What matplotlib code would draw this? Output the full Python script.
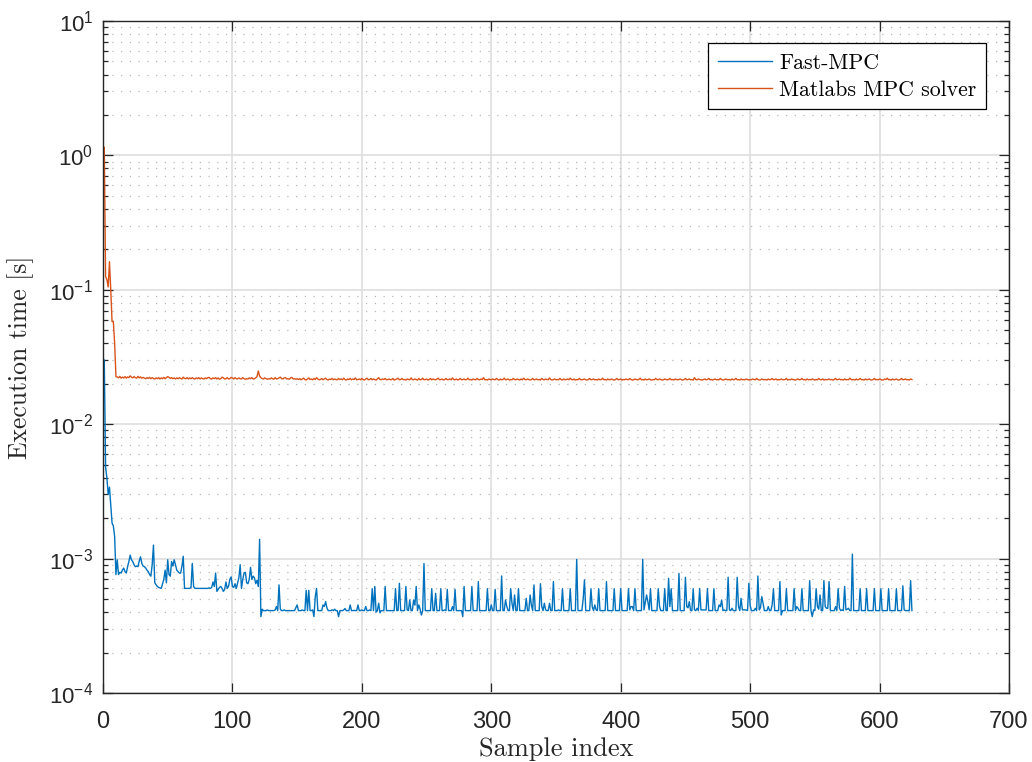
import numpy as np
import matplotlib
matplotlib.use("Agg")
import matplotlib.pyplot as plt
from matplotlib.ticker import LogLocator, NullFormatter

plt.rcParams['font.family'] = ['Liberation Sans', 'DejaVu Sans']
plt.rcParams['mathtext.fontset'] = 'custom'
plt.rcParams['mathtext.rm'] = 'Liberation Sans'

# Fast-MPC execution time per sample, in microseconds
fast_mpc_us = [
    30000, 4800, 4000, 3000, 3400, 2500, 1840, 1750, 1460, 760,
    980, 760, 790, 780, 820, 850, 800, 780, 870, 950,
    1060, 980, 950, 900, 870, 880, 870, 960, 1030, 920,
    880, 870, 850, 820, 800, 760, 740, 900, 1260, 660,
    640, 620, 610, 605, 600, 650, 700, 820, 660, 980,
    760, 740, 950, 880, 980, 900, 820, 800, 780, 780,
    880, 1040, 600, 600, 600, 600, 600, 610, 920, 620,
    600, 600, 600, 600, 600, 600, 600, 600, 600, 600,
    600, 605, 600, 610, 670, 620, 780, 570, 590, 610,
    620, 600, 570, 590, 670, 600, 620, 700, 730, 620,
    610, 650, 600, 660, 720, 900, 600, 700, 780, 790,
    660, 650, 700, 860, 700, 740, 720, 650, 690, 620,
    1390, 370, 420, 410, 410, 410, 415, 410, 410, 410,
    410, 410, 415, 440, 410, 637, 420, 410, 410, 415,
    410, 410, 410, 410, 410, 410, 410, 410, 430, 452,
    410, 410, 410, 415, 410, 410, 580, 410, 580, 410,
    410, 415, 370, 520, 600, 410, 410, 410, 410, 452,
    440, 478, 430, 410, 410, 410, 415, 410, 420, 410,
    410, 370, 410, 410, 410, 415, 425, 410, 410, 410,
    452, 410, 410, 412, 410, 410, 452, 410, 410, 415,
    410, 410, 440, 410, 410, 415, 410, 597, 410, 620,
    400, 410, 465, 395, 410, 410, 410, 620, 410, 410,
    410, 410, 410, 410, 410, 597, 410, 410, 655, 410,
    410, 410, 410, 620, 415, 410, 492, 410, 410, 492,
    450, 620, 410, 452, 420, 380, 410, 920, 410, 410,
    410, 410, 410, 597, 410, 410, 552, 410, 410, 410,
    597, 410, 410, 415, 410, 590, 410, 410, 410, 439,
    410, 590, 410, 410, 410, 410, 410, 370, 620, 410,
    410, 410, 410, 410, 620, 410, 410, 410, 410, 674,
    410, 410, 410, 410, 410, 410, 597, 410, 410, 452,
    410, 410, 590, 410, 410, 410, 410, 742, 410, 410,
    492, 440, 410, 410, 597, 465, 410, 536, 410, 410,
    597, 410, 410, 410, 410, 410, 506, 410, 410, 536,
    450, 410, 637, 410, 410, 410, 410, 650, 439, 410,
    465, 415, 410, 410, 465, 410, 410, 674, 410, 410,
    410, 415, 410, 410, 597, 410, 410, 410, 410, 410,
    597, 410, 410, 410, 410, 986, 410, 410, 410, 410,
    500, 693, 410, 410, 410, 410, 597, 439, 410, 452,
    415, 410, 597, 410, 410, 410, 410, 410, 674, 410,
    410, 410, 410, 410, 597, 410, 410, 410, 410, 597,
    410, 410, 410, 410, 410, 597, 415, 439, 439, 410,
    597, 410, 410, 410, 410, 410, 986, 415, 470, 536,
    478, 415, 597, 410, 410, 410, 410, 410, 597, 439,
    410, 410, 410, 597, 410, 410, 713, 439, 597, 410,
    410, 410, 410, 410, 776, 410, 410, 410, 410, 726,
    439, 430, 478, 410, 410, 597, 415, 410, 427, 410,
    597, 415, 415, 415, 415, 415, 597, 410, 410, 410,
    410, 597, 410, 410, 410, 452, 439, 492, 410, 415,
    410, 410, 726, 415, 410, 427, 410, 410, 410, 726,
    439, 410, 506, 415, 415, 415, 415, 410, 655, 450,
    410, 410, 410, 427, 410, 742, 415, 430, 521, 465,
    410, 410, 410, 439, 410, 410, 452, 597, 410, 410,
    410, 410, 674, 380, 410, 410, 410, 597, 410, 410,
    410, 410, 410, 597, 410, 439, 427, 410, 410, 597,
    410, 410, 410, 410, 410, 685, 410, 370, 415, 410,
    597, 439, 420, 536, 410, 410, 685, 439, 427, 427,
    674, 410, 410, 410, 410, 439, 410, 597, 427, 410,
    415, 410, 620, 415, 420, 427, 410, 410, 1080, 410,
    410, 410, 410, 410, 597, 410, 410, 410, 410, 597,
    410, 410, 410, 410, 410, 597, 410, 410, 410, 410,
    597, 410, 410, 410, 410, 410, 597, 410, 410, 410,
    410, 410, 597, 410, 410, 410, 410, 627, 415, 410,
    410, 410, 410, 685, 410,
]

# Matlab MPC solver execution time per sample, in units of 0.1 ms
matlab_mpc_01ms = [
    11500, 1250, 1200, 1050, 1620, 1000, 580, 580, 400, 226,
    225, 221, 227, 220, 224, 221, 226, 220, 225, 222,
    229, 224, 221, 226, 222, 220, 227, 221, 225, 220,
    223, 220, 218, 222, 219, 223, 218, 222, 219, 217,
    221, 218, 222, 217, 221, 218, 223, 218, 222, 226,
    223, 219, 222, 218, 221, 217, 221, 218, 222, 219,
    217, 224, 219, 218, 222, 217, 221, 218, 222, 218,
    217, 221, 218, 222, 217, 221, 218, 217, 221, 218,
    222, 223, 218, 217, 221, 218, 222, 217, 221, 216,
    218, 224, 221, 217, 218, 222, 217, 218, 223, 221,
    217, 222, 218, 217, 221, 218, 217, 222, 218, 216,
    218, 217, 221, 218, 222, 217, 218, 221, 226, 249,
    228, 222, 218, 217, 221, 218, 216, 218, 217, 221,
    218, 216, 222, 217, 218, 221, 224, 218, 217, 221,
    222, 217, 218, 216, 221, 223, 217, 218, 216, 218,
    215, 218, 214, 217, 220, 215, 213, 217, 221, 215,
    217, 214, 219, 215, 222, 217, 214, 215, 219, 214,
    217, 220, 215, 213, 217, 215, 219, 214, 217, 215,
    214, 219, 215, 217, 214, 220, 215, 213, 217, 215,
    219, 214, 217, 215, 221, 214, 215, 217, 214, 219,
    215, 213, 217, 220, 214, 215, 219, 214, 217, 215,
    213, 217, 222, 215, 214, 217, 215, 219, 214, 215,
    217, 214, 215, 219, 213, 215, 217, 220, 214, 215,
    219, 214, 215, 213, 217, 215, 214, 221, 215, 214,
    217, 215, 213, 219, 214, 215, 220, 214, 215, 217,
    213, 215, 219, 214, 217, 215, 214, 217, 220, 214,
    215, 217, 213, 215, 219, 214, 215, 217, 214, 221,
    215, 214, 217, 213, 215, 219, 214, 215, 217, 214,
    215, 220, 214, 215, 213, 217, 215, 214, 219, 215,
    214, 217, 215, 222, 214, 215, 213, 217, 215, 214,
    217, 215, 214, 219, 215, 213, 217, 214, 215, 220,
    214, 215, 217, 213, 215, 214, 219, 215, 214, 217,
    215, 213, 217, 214, 220, 215, 214, 217, 215, 213,
    215, 219, 214, 215, 217, 214, 215, 213, 219, 215,
    214, 217, 215, 214, 221, 215, 213, 215, 217, 214,
    215, 214, 219, 215, 213, 217, 214, 215, 217, 214,
    220, 215, 214, 217, 213, 215, 214, 219, 215, 214,
    215, 217, 214, 213, 215, 219, 214, 215, 217, 214,
    215, 213, 217, 214, 215, 220, 214, 215, 213, 217,
    214, 215, 217, 214, 213, 215, 219, 214, 215, 217,
    213, 215, 214, 217, 215, 214, 219, 215, 213, 214,
    217, 215, 214, 215, 220, 214, 215, 213, 217, 214,
    215, 217, 214, 213, 215, 214, 219, 215, 214, 217,
    215, 213, 214, 217, 215, 214, 215, 219, 214, 215,
    213, 217, 215, 214, 215, 217, 214, 213, 215, 219,
    214, 215, 217, 214, 215, 213, 222, 215, 214, 217,
    215, 214, 213, 215, 217, 214, 215, 219, 214, 215,
    213, 215, 217, 214, 215, 214, 219, 215, 213, 214,
    217, 215, 214, 215, 213, 217, 214, 215, 219, 214,
    215, 213, 217, 214, 215, 214, 217, 215, 213, 215,
    214, 217, 215, 214, 219, 215, 213, 214, 217, 215,
    214, 215, 213, 217, 214, 215, 219, 214, 215, 217,
    213, 215, 214, 217, 215, 214, 215, 219, 213, 215,
    214, 217, 215, 214, 213, 215, 217, 214, 215, 219,
    214, 215, 213, 217, 214, 215, 214, 217, 215, 213,
    215, 214, 219, 215, 214, 217, 213, 215, 214, 215,
    217, 214, 215, 213, 215, 219, 214, 215, 217, 214,
    215, 213, 217, 214, 215, 214, 220, 215, 214, 215,
    213, 217, 214, 215, 219, 214, 215, 213, 217, 214,
    215, 217, 214, 213, 215, 219, 214, 215, 214, 217,
    215, 213, 214, 217, 215, 220, 214, 215, 213, 217,
    214, 215, 217, 214, 213, 215, 219, 214, 215, 217,
    214, 215, 213, 217, 215,
]

series_labels = ['Fast-MPC', 'Matlabs MPC solver']
x_ticks = [0, 100, 200, 300, 400, 500, 600, 700]

fast_mpc = np.array(fast_mpc_us) * 1e-6
matlab_mpc = np.array(matlab_mpc_01ms) * 1e-4

fig = plt.figure(figsize=(10.32, 7.62), dpi=100)
ax = fig.add_axes([0.0998, 0.0906, 0.8779, 0.8818])

ax.plot(np.arange(1, len(fast_mpc) + 1), fast_mpc, color='#0072BD', lw=1.0,
        label=series_labels[0])
ax.plot(np.arange(1, len(matlab_mpc) + 1), matlab_mpc, color='#D95319', lw=1.0,
        label=series_labels[1])

ax.set_yscale('log')
ax.set_xlim(0, 700)
ax.set_ylim(1e-4, 1e1)
ax.set_xticks(x_ticks)
ax.xaxis.set_minor_locator(plt.NullLocator())
ax.yaxis.set_major_locator(LogLocator(base=10, numticks=10))
ax.yaxis.set_minor_locator(LogLocator(base=10, subs=np.arange(2, 10), numticks=20))
ax.yaxis.set_minor_formatter(NullFormatter())

# matlab style grid: solid major, dotted minor (y only)
ax.set_axisbelow(True)
ax.grid(which='major', color='#dedede', lw=1.2, ls='-')
ax.grid(which='minor', axis='y', color='#b8b8b8', lw=0.9, ls=(0, (1, 6)))

dark = '#262626'
for sp in ax.spines.values():
    sp.set_color(dark)
    sp.set_linewidth(1.0)
ax.tick_params(which='both', direction='in', top=True, right=True, color=dark,
               labelcolor=dark, width=0.9)
ax.tick_params(which='major', length=7)
ax.tick_params(which='minor', length=3.5)
ax.tick_params(axis='x', labelsize=17, pad=13)
ax.tick_params(axis='y', labelsize=16, pad=7)

ax.set_xlabel('Sample index', fontname='cmr10', fontsize=19, labelpad=3, color=dark)
ax.set_ylabel('Execution time [s]', fontname='cmr10', fontsize=18.5, labelpad=11, color=dark)

leg = ax.legend(loc='upper right', bbox_to_anchor=(0.9746, 0.967), borderaxespad=0,
                prop={'family': 'cmr10', 'size': 15.7}, fancybox=False, framealpha=1,
                edgecolor='black', handlelength=2.5, handletextpad=0.3,
                borderpad=0.45, labelspacing=0.35)
leg.get_frame().set_linewidth(0.9)

fig.savefig('out.png', dpi=100)
